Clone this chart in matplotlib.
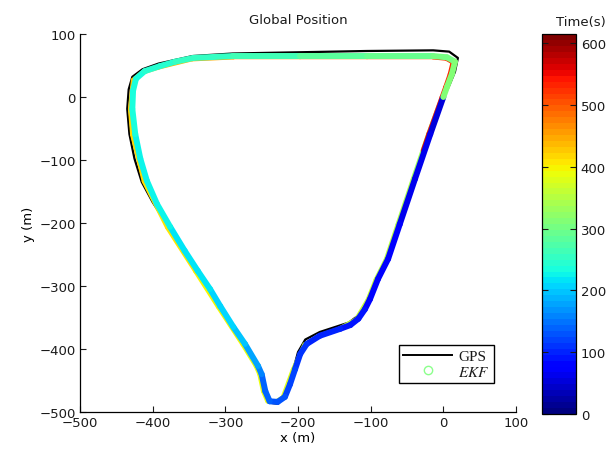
import numpy as np
import matplotlib
matplotlib.use("Agg")
import matplotlib.pyplot as plt
from matplotlib.collections import LineCollection
from matplotlib.lines import Line2D

# ---------------------------------------------------------------------------
# Data
# ---------------------------------------------------------------------------

# GPS track (m)
gps_x = [0, -60, -101, -115, -130, -170, -190, -200, -212, -220, -228, -240,
         -247, -252, -258, -292, -340, -380, -400, -415, -425, -432, -435,
         -433, -428, -414, -392, -345, -290, -197, -105, -14, 8, 20, 16, 8, 0]
gps_y = [0, -202, -321, -345, -358, -373, -385, -405, -456, -478, -487, -485,
         -467, -440, -425, -362, -272, -203, -167, -135, -98, -59, -19,
         12, 32, 44, 53, 65, 69, 71, 73, 74, 72, 62, 40, 18, 0]

# EKF estimate, first lap (m) and time (s)
ekf1_x = [0, -18, -39, -60, -76, -90, -101, -108, -117, -128, -142, -170,
          -188, -197, -204, -211, -218, -228, -239, -245, -250, -255, -273,
          -289, -307, -321, -338, -356, -376, -394, -408, -417, -424, -428,
          -427, -423, -411, -390, -369, -344, -289, -197, -105, -14, 5, 16,
          12, 5, 0]
ekf1_y = [0, -59, -130, -202, -257, -289, -321, -337, -352, -362, -368, -379,
          -392, -408, -432, -456, -476, -484, -483, -467, -440, -427, -392,
          -365, -332, -305, -276, -244, -206, -170, -133, -98, -59, -19,
          10, 29, 41, 49, 56, 62, 65, 65, 65, 65, 63, 56,
          37, 16, 0]
ekf1_t = [48, 55, 62, 68, 74, 78, 84, 87, 90, 93, 96, 102,
          106, 110, 115, 120, 125, 129, 133, 138, 150, 165, 192,
          200, 206, 210, 214, 218, 221, 224, 226, 228, 230, 232,
          235, 238, 242, 246, 250, 254, 262, 275, 288, 300, 304, 307,
          310, 313, 316]

# EKF estimate, second lap
ekf2_x = [-2, -21, -42, -63, -79, -93, -104, -120, -145, -173, -191, -207,
          -221, -231, -242, -248, -253, -258, -276, -310, -341, -380, -412,
          -428, -431, -427, -414, -392, -346, -289, -197, -105, -14, 4, 13,
          9, 3, -2, -20, -28]
ekf2_y = [-1, -60, -131, -203, -258, -290, -322, -353, -369, -380, -393, -433,
          -477, -484, -483, -467, -440, -427, -393, -333, -277, -207, -134,
          -60, -19, 27, 39, 47, 60, 63, 63, 63, 63, 61, 55,
          36, 16, 0, -58, -85]
ekf2_t = [318, 330, 340, 348, 354, 357, 360, 363, 366, 369, 372, 376,
          380, 382, 384, 386, 388, 390, 393, 398, 402, 407, 412,
          418, 421, 425, 428, 432, 440, 455, 478, 500, 518, 522, 526,
          532, 538, 542, 550, 556]

T_MAX = 615
X_TICKS = [-500, -400, -300, -200, -100, 0, 100]
Y_TICKS = [-500, -400, -300, -200, -100, 0, 100]
C_TICKS = [0, 100, 200, 300, 400, 500, 600]

TEXT_COLOR = "#1a1a1a"
FS = 9.5


def colored_path(ax, xs, ys, ts, cmap, norm, lw, z):
    pts = np.column_stack([xs, ys]).reshape(-1, 1, 2)
    segs = np.concatenate([pts[:-1], pts[1:]], axis=1)
    ts = np.asarray(ts, dtype=float)
    lc = LineCollection(segs, cmap=cmap, norm=norm, linewidths=lw,
                        capstyle="round", joinstyle="round", zorder=z)
    lc.set_array(0.5 * (ts[:-1] + ts[1:]))
    ax.add_collection(lc)
    return lc


def minus(vals):
    return [str(v).replace("-", "\u2212") for v in vals]


def main():
    plt.rcParams.update({
        "font.family": ["DejaVu Sans"],
        "font.size": FS,
        "text.color": TEXT_COLOR,
        "xtick.color": TEXT_COLOR,
        "ytick.color": TEXT_COLOR,
        "mathtext.fontset": "stix",
    })

    fig = plt.figure(figsize=(6.13, 4.56), dpi=100)
    ax = fig.add_axes([0.1305, 0.0943, 0.7113, 0.829])
    cax = fig.add_axes([0.884, 0.0899, 0.0555, 0.833])

    cmap = plt.get_cmap("jet", 64)
    norm = matplotlib.colors.Normalize(vmin=0, vmax=T_MAX)

    ax.plot(gps_x, gps_y, color="black", lw=1.6, zorder=1)
    colored_path(ax, ekf2_x, ekf2_y, ekf2_t, cmap, norm, 3.2, 2)
    lc = colored_path(ax, ekf1_x, ekf1_y, ekf1_t, cmap, norm, 4.3, 3)

    ax.set_xlim(-500, 100)
    ax.set_ylim(-500, 100)
    ax.set_xticks(X_TICKS)
    ax.set_yticks(Y_TICKS)
    ax.set_xticklabels(minus(X_TICKS))
    ax.set_yticklabels(minus(Y_TICKS))
    for side in ("top", "right"):
        ax.spines[side].set_visible(False)
    for side in ("left", "bottom"):
        ax.spines[side].set_linewidth(0.9)
    ax.tick_params(direction="in", length=4, width=0.8, labelsize=FS, pad=3)

    ax.set_title("Global Position", fontsize=FS, pad=8)
    ax.set_xlabel("x (m)", fontsize=FS, labelpad=1)
    ax.set_ylabel("y (m)", fontsize=FS, labelpad=3)

    handles = [
        Line2D([], [], color="black", lw=1.4),
        Line2D([], [], ls="none", marker="o", markersize=6,
               markerfacecolor="none", markeredgecolor="#8cff8c"),
    ]
    leg = ax.legend(handles, ["GPS", "$EKF$"], loc="lower right",
                    bbox_to_anchor=(0.968, 0.056), fancybox=False,
                    framealpha=1, edgecolor="black", borderpad=0.3,
                    labelspacing=0.1, handlelength=3.2, handletextpad=0.4,
                    prop={"family": "Liberation Serif", "size": 11})
    leg.get_frame().set_linewidth(1.0)

    cb = fig.colorbar(lc, cax=cax, ticks=C_TICKS)
    cb.outline.set_linewidth(0.9)
    cb.ax.tick_params(direction="in", length=4, width=0.8, labelsize=FS,
                      left=True, right=True)
    fig.text(0.948, 0.95, "Time(s)", ha="center", va="center", fontsize=FS)

    fig.savefig("out.png", dpi=100)
    plt.close(fig)


if __name__ == "__main__":
    main()
